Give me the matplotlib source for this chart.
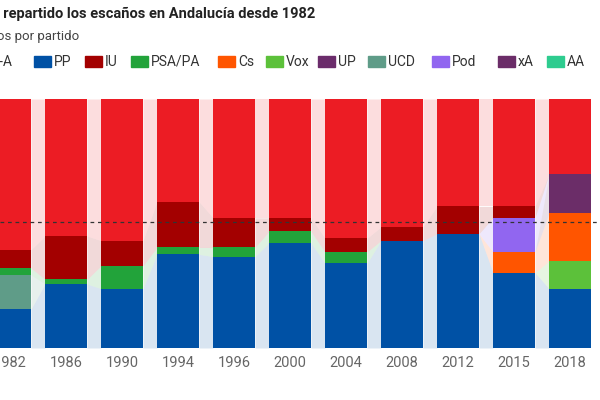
import matplotlib

matplotlib.use("Agg")
import matplotlib.pyplot as plt
from matplotlib.patches import Rectangle

plt.rcParams["font.family"] = ["Roboto", "DejaVu Sans"]

years = ["1982", "1986", "1990", "1994", "1996", "2000", "2004", "2008", "2012", "2015", "2018"]
# seats per party, stacked bottom to top
pp = [17, 28, 26, 41, 40, 46, 37, 47, 50, 33, 26]
ucd = [15, 0, 0, 0, 0, 0, 0, 0, 0, 0, 0]
psa_pa = [3, 2, 10, 3, 4, 5, 5, 0, 0, 0, 0]
vox = [0, 0, 0, 0, 0, 0, 0, 0, 0, 0, 12]
cs = [0, 0, 0, 0, 0, 0, 0, 0, 0, 9, 21]
xa = [0, 0, 0, 0, 0, 0, 0, 0, 0, 0, 17]
pod = [0, 0, 0, 0, 0, 0, 0, 0, 0, 15, 0]
iu = [8, 19, 11, 20, 13, 6, 6, 6, 12, 5, 0]
psoe = [66, 60, 62, 45, 52, 52, 61, 56, 47, 47, 33]
total_seats = 109
majority = 55

stack = [
    (pp, "#0051a5"), (ucd, "#5f9c88"), (psa_pa, "#22a33a"), (vox, "#5cc13a"),
    (cs, "#ff5500"), (xa, "#6b2d68"), (pod, "#9166f0"), (iu, "#a30000"),
    (psoe, "#ec1c24"),
]
legend_items = [
    ("PSOE-A", "#ec1c24"), ("PP", "#0051a5"), ("IU", "#a30000"), ("PSA/PA", "#22a33a"),
    ("Cs", "#ff5500"), ("Vox", "#5cc13a"), ("UP", "#6b2c6b"), ("UCD", "#5f9c88"),
    ("Pod", "#9166f0"), ("xA", "#6b2d68"), ("AA", "#2ecc8f"),
]

fig = plt.figure(figsize=(6, 4), dpi=100)
ax = fig.add_axes([0, 0.13, 1, 0.6225])
x = list(range(len(years)))
w = 0.75

bottom = [0] * len(years)
for vals, color in stack:
    top = [b + v for b, v in zip(bottom, vals)]
    ax.bar(x, vals, bottom=bottom, width=w, color=color, zorder=3)
    # pale connecting bands between neighbouring bars
    for i in range(len(years) - 1):
        ax.fill_between([i + w / 2, i + 1 - w / 2], [bottom[i], bottom[i + 1]],
                        [top[i], top[i + 1]], color=color, alpha=0.15, lw=0, zorder=1)
    bottom = top

ax.axhline(majority, color="#333333", ls=(0, (3, 3)), lw=0.9, zorder=4)
ax.set_xlim(-10 / 56, 590 / 56)
ax.set_ylim(0, total_seats)
ax.set_xticks(x)
ax.set_xticklabels(years, fontsize=10.5, color="#666666")
ax.tick_params(length=0, pad=6)
ax.set_yticks([])
for s in ax.spines.values():
    s.set_visible(False)

fig.text(315 / 600, 1 - 14 / 400, "Así se han repartido los escaños en Andalucía desde 1982",
         ha="right", va="center", fontsize=10.5, fontweight="bold", color="#222222")
fig.text(79 / 600, 1 - 36 / 400, "Escaños por partido", ha="right", va="center",
         fontsize=9.5, color="#444444")

# hand-placed legend row (first entry runs off the left edge)
patch_x = [None, 34, 85, 131, 218, 266, 318, 368, 432, 498, 547]
for (label, color), px in zip(legend_items, patch_x):
    if px is None:
        fig.text(13 / 600, 1 - 62 / 400, label, ha="right", va="center",
                 fontsize=10, color="#333333")
        continue
    fig.patches.append(Rectangle((px / 600, 1 - 67 / 400), 17 / 600, 11 / 400,
                                 transform=fig.transFigure, color=color))
    fig.text((px + 20) / 600, 1 - 62 / 400, label, ha="left", va="center",
             fontsize=10, color="#333333")

fig.savefig("out.png")
plt.close(fig)
